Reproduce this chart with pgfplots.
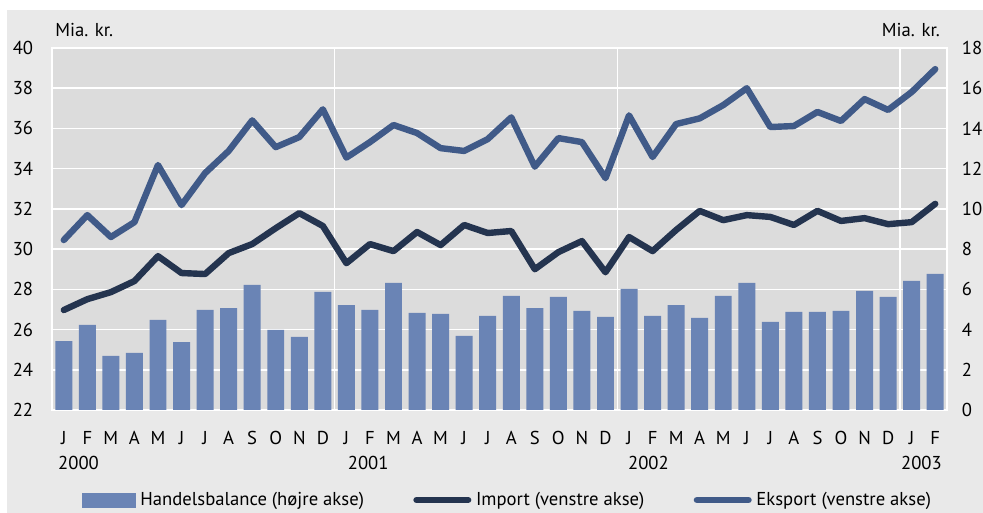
\documentclass[border=0pt]{standalone}
\usepackage{fontspec}
\setmainfont{PT Sans}
\usepackage{pgfplots}
\usepackage{pgfplotstable}
\pgfplotsset{compat=1.18}

\definecolor{panel}{HTML}{E9E9E9}
\definecolor{plotbg}{HTML}{DCDCDC}
\definecolor{barc}{HTML}{6A84B5}
\definecolor{eksc}{HTML}{405A88}
\definecolor{impc}{HTML}{24344F}

% x = month index (0 = jan 2000), bal = handelsbalance (right axis), imp/eks = left axis
\pgfplotstableread{
x  bal   imp    eks
0  3.43  26.97  30.45
1  4.23  27.51  31.69
2  2.69  27.86  30.60
3  2.84  28.41  31.34
4  4.48  29.65  34.18
5  3.38  28.81  32.19
6  4.98  28.76  33.78
7  5.07  29.80  34.88
8  6.22  30.25  36.40
9  3.98  31.04  35.07
10 3.63  31.79  35.57
11 5.87  31.15  36.95
12 5.22  29.30  34.55
13 4.98  30.25  35.32
14 6.32  29.90  36.17
15 4.83  30.85  35.77
16 4.78  30.20  35.02
17 3.68  31.20  34.88
18 4.68  30.80  35.47
19 5.67  30.90  36.55
20 5.07  29.00  34.10
21 5.62  29.85  35.52
22 4.93  30.40  35.32
23 4.63  28.85  33.53
24 6.02  30.60  36.65
25 4.68  29.90  34.58
26 5.22  30.95  36.22
27 4.58  31.90  36.50
28 5.67  31.44  37.16
29 6.32  31.69  38.00
30 4.38  31.60  36.07
31 4.88  31.20  36.12
32 4.88  31.90  36.82
33 4.93  31.40  36.37
34 5.92  31.54  37.46
35 5.62  31.24  36.92
36 6.42  31.34  37.81
37 6.77  32.25  38.95
}\data

\begin{document}
\fontsize{14}{16}\selectfont
\begin{tikzpicture}
\useasboundingbox (0,0) rectangle (737.25pt,384.75pt);
\fill[white] (0,0) rectangle (737.25pt,384.75pt);
\fill[panel] (5.25pt,0) rectangle (737.25pt,377.25pt);

% bars, right axis
\begin{axis}[
  name=main,
  at={(39pt,77.25pt)}, anchor=south west,
  scale only axis, width=671.25pt, height=271.5pt,
  clip=false,
  axis background/.style={fill=plotbg},
  axis line style={white, line width=1.1pt},
  xmin=-0.5, xmax=37.5,
  ymin=0, ymax=18,
  ytick={0,2,...,18},
  yticklabel pos=right,
  yticklabel style={anchor=west, xshift=6.3pt},
  xtick={0,...,37},
  xticklabels={J,F,M,A,M,J,J,A,S,O,N,D,J,F,M,A,M,J,J,A,S,O,N,D,J,F,M,A,M,J,J,A,S,O,N,D,J,F},
  xticklabel style={anchor=base, yshift=-26.25pt},
  extra x ticks={11.5,23.5,35.5},
  extra x tick labels={},
  extra x tick style={xmajorgrids=true},
  major tick length=0pt,
  ymajorgrids=true,
  grid style={white, line width=1.1pt},
  /pgf/number format/assume math mode=true,
]
\addplot[ybar, bar width=0.72, fill=barc, draw=none] table[x=x, y=bal]{\data};
\node[anchor=base west, inner sep=0pt] at (axis cs:-0.25,0) [yshift=-45pt] {2000};
\node[anchor=base west, inner sep=0pt] at (axis cs:12.05,0) [yshift=-45pt] {2001};
\node[anchor=base west, inner sep=0pt] at (axis cs:23.95,0) [yshift=-45pt] {2002};
\node[anchor=base east, inner sep=0pt] at (axis cs:37.29,0) [yshift=-45pt] {2003};
\node[anchor=base west, inner sep=0pt] at (rel axis cs:0,1) [xshift=2.25pt, yshift=8.25pt] {Mia. kr.};
\node[anchor=base east, inner sep=0pt] at (rel axis cs:1,1) [xshift=-5.25pt, yshift=8.25pt] {Mia. kr.};
\end{axis}

% lines, left axis
\begin{axis}[
  at={(39pt,77.25pt)}, anchor=south west,
  scale only axis, width=671.25pt, height=271.5pt,
  clip=false,
  hide x axis,
  axis line style={draw=none},
  xmin=-0.5, xmax=37.5,
  ymin=22, ymax=40,
  ytick={22,24,...,40},
  yticklabel style={anchor=east, xshift=-9.3pt},
  major tick length=0pt,
  /pgf/number format/assume math mode=true,
  legend columns=3,
  legend cell align=left,
  legend style={at={(axis description cs:0.0335,-0.2486)}, anchor=west,
    draw=none, fill=none, inner sep=0pt,
    nodes={inner sep=0pt},
    /tikz/every odd column/.append style={column sep=3.5pt},
    /tikz/every even column/.append style={column sep=37pt}},
]
\addlegendimage{legend image code/.code={\fill[barc] (0pt,-5.25pt) rectangle (39.75pt,5.25pt);}}
\addlegendentry{Handelsbalance (højre akse)}
\addplot[impc, line width=4.8pt, line join=round, line cap=round,
  legend image code/.code={\draw[impc, line width=4.8pt, line cap=round] (2.4pt,0pt) -- (41.1pt,0pt);}]
  table[x=x, y=imp]{\data};
\addlegendentry{Import (venstre akse)}
\addplot[eksc, line width=4.8pt, line join=round, line cap=round,
  legend image code/.code={\draw[eksc, line width=4.8pt, line cap=round] (2.4pt,0pt) -- (41.1pt,0pt);}]
  table[x=x, y=eks]{\data};
\addlegendentry{Eksport (venstre akse)}
\end{axis}
\end{tikzpicture}
\end{document}
